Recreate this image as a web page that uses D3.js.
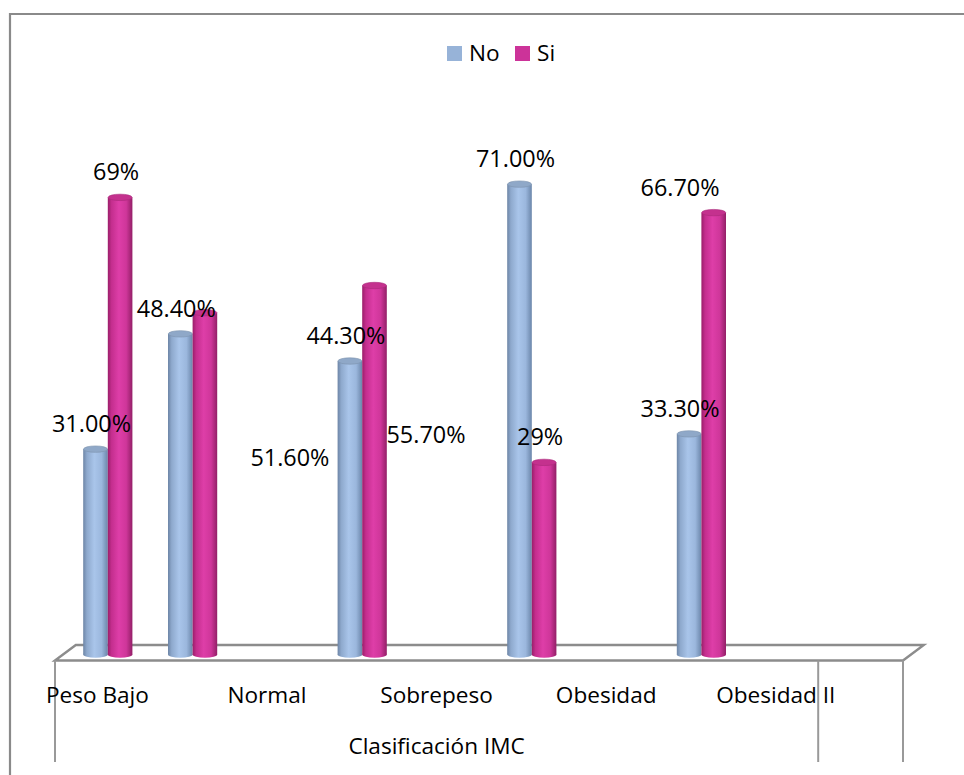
<!DOCTYPE html>
<html>
<head>
<meta charset="utf-8">
<script src="https://cdn.jsdelivr.net/npm/d3@7/dist/d3.min.js"></script>
<style>
  html, body { margin: 0; padding: 0; background: #ffffff; }
  svg { display: block; }
  text { font-family: "Open Sans", "DejaVu Sans", sans-serif; fill: #000; }
</style>
</head>
<body>
<svg id="chart" width="964" height="775"></svg>
<script>
// Category slots of the axis (ten slots, a label on every second one)
const slots = [0, 1, 2, 3, 4, 5, 6, 7, 8, 9];
const categoryLabels = ["Peso Bajo", "", "Normal", "", "Sobrepeso", "", "Obesidad", "", "Obesidad II", ""];
const axisTitle = "Clasificación IMC";

// Series
const seriesNames = ["No", "Si"];
const noValues = [31.0, 48.4, null, 44.3, null, 71.0, null, 33.3, null, null];
const siValues = [69.0, 51.6, null, 55.7, null, 29.0, null, 66.7, null, null];
// decimals shown in each data label
const noDecimals = [2, 2, null, 2, null, 2, null, 2, null, null];
const siDecimals = [0, 2, null, 2, null, 0, null, 2, null, null];

// ---- layout ----
const W = 964, H = 775;
const floorFront = { x0: 55, x1: 903, y: 660.5 };
const depth = { dx: 20.8, dy: -15.5 };
const barWidth = 24.6;
const fontSize = 22.6;
const labelFontSize = 23.4;

// label placement tweaks for a few labels (dx, dy in px)
const labelNudge = { "Si-1": [89, 170], "Si-3": [55.5, 175], "No-7": [-5, 0], "Si-7": [-29.6, 0] };

const palette = {
  No: { stops: ["#6d85a6", "#8ea9cd", "#a9c5ea", "#9bb7dd", "#6b86aa"], top: "#8fa8c8", legend: "#97b3d8" },
  Si: { stops: ["#9a1e69", "#c42e8e", "#de3ea8", "#cf369a", "#931f67"], top: "#c4318e", legend: "#cc3399" }
};

const svg = d3.select("#chart");
const defs = svg.append("defs");
seriesNames.forEach(s => {
  const g = defs.append("linearGradient").attr("id", "grad-" + s)
    .attr("x1", "0%").attr("x2", "100%").attr("y1", "0%").attr("y2", "0%");
  const offs = [0, 0.15, 0.45, 0.75, 1];
  palette[s].stops.forEach((c, i) => g.append("stop").attr("offset", offs[i]).attr("stop-color", c));
});

// outer frame
svg.append("path")
  .attr("d", `M10,${H} V14 H${W}`)
  .attr("fill", "none").attr("stroke", "#8a8a8a").attr("stroke-width", 2.2);

// scales
const x = d3.scaleBand().domain(slots).range([floorFront.x0, floorFront.x1]).padding(0);
const xSeries = d3.scaleBand().domain(seriesNames).range([0, barWidth * 2]);
const y = d3.scaleLinear().domain([0, 100]).range([654.5, -8]);

// floor
const fl = floorFront;
const floorPts = [
  [fl.x0, fl.y], [fl.x0 + depth.dx, fl.y + depth.dy],
  [fl.x1 + depth.dx, fl.y + depth.dy], [fl.x1, fl.y]
];
svg.append("path")
  .attr("d", d3.line()(floorPts) + "Z")
  .attr("fill", "#ffffff").attr("stroke", "#8c8c8c").attr("stroke-width", 2.4)
  .attr("stroke-linejoin", "miter");

// category table lines under the floor
const tableBottom = 762;
const groupEnd = x(8) + x.bandwidth();
[fl.x0, groupEnd, fl.x1].forEach(xx => {
  svg.append("line")
    .attr("x1", xx).attr("x2", xx).attr("y1", fl.y).attr("y2", tableBottom)
    .attr("stroke", "#999999").attr("stroke-width", 2);
});

// category labels
svg.append("g").selectAll("text")
  .data(slots.filter(i => categoryLabels[i]))
  .join("text")
  .attr("x", i => x(i) + x.bandwidth() / 2)
  .attr("y", 703)
  .attr("text-anchor", "middle")
  .attr("font-size", fontSize)
  .text(i => categoryLabels[i]);

svg.append("text")
  .attr("x", (fl.x0 + groupEnd) / 2)
  .attr("y", 754)
  .attr("text-anchor", "middle")
  .attr("font-size", fontSize)
  .text(axisTitle);

// bars as cylinders
const seriesData = { No: noValues, Si: siValues };
const seriesDec = { No: noDecimals, Si: siDecimals };
const bars = [];
slots.forEach(i => {
  seriesNames.forEach(s => {
    const v = seriesData[s][i];
    if (v == null) return;
    const groupLeft = x(i) + x.bandwidth() / 2 + depth.dx / 2 - barWidth;
    const cx = groupLeft + xSeries(s) + xSeries.bandwidth() / 2;
    bars.push({ slot: i, series: s, value: v, cx, dec: seriesDec[s][i] });
  });
});

const barG = svg.append("g");
const ry = 3.2;
bars.forEach(b => {
  const g = barG.append("g");
  const top = y(b.value), bottom = y(0);
  const rx = barWidth / 2;
  g.append("ellipse")
    .attr("cx", b.cx).attr("cy", bottom).attr("rx", rx).attr("ry", ry)
    .attr("fill", `url(#grad-${b.series})`);
  g.append("rect")
    .attr("x", b.cx - rx).attr("y", top).attr("width", barWidth).attr("height", bottom - top)
    .attr("fill", `url(#grad-${b.series})`);
  g.append("ellipse")
    .attr("cx", b.cx).attr("cy", top).attr("rx", rx - 0.3).attr("ry", ry)
    .attr("fill", palette[b.series].top)
    .attr("stroke", d3.color(palette[b.series].top).darker(0.4)).attr("stroke-width", 0.6);
});

// data labels
svg.append("g").selectAll("text")
  .data(bars)
  .join("text")
  .attr("x", b => b.cx - 4 + (labelNudge[b.series + "-" + b.slot] || [0, 0])[0])
  .attr("y", b => y(b.value) - 17 + (labelNudge[b.series + "-" + b.slot] || [0, 0])[1])
  .attr("text-anchor", "middle")
  .attr("font-size", labelFontSize)
  .text(b => b.value.toFixed(b.dec) + "%");

// legend
const legend = svg.append("g");
const legendX = [447, 515];
seriesNames.forEach((s, k) => {
  legend.append("rect")
    .attr("x", legendX[k]).attr("y", 46).attr("width", 15).attr("height", 15)
    .attr("fill", palette[s].legend);
  legend.append("text")
    .attr("x", legendX[k] + 22).attr("y", 61)
    .attr("font-size", fontSize)
    .text(s);
});
</script>
</body>
</html>
